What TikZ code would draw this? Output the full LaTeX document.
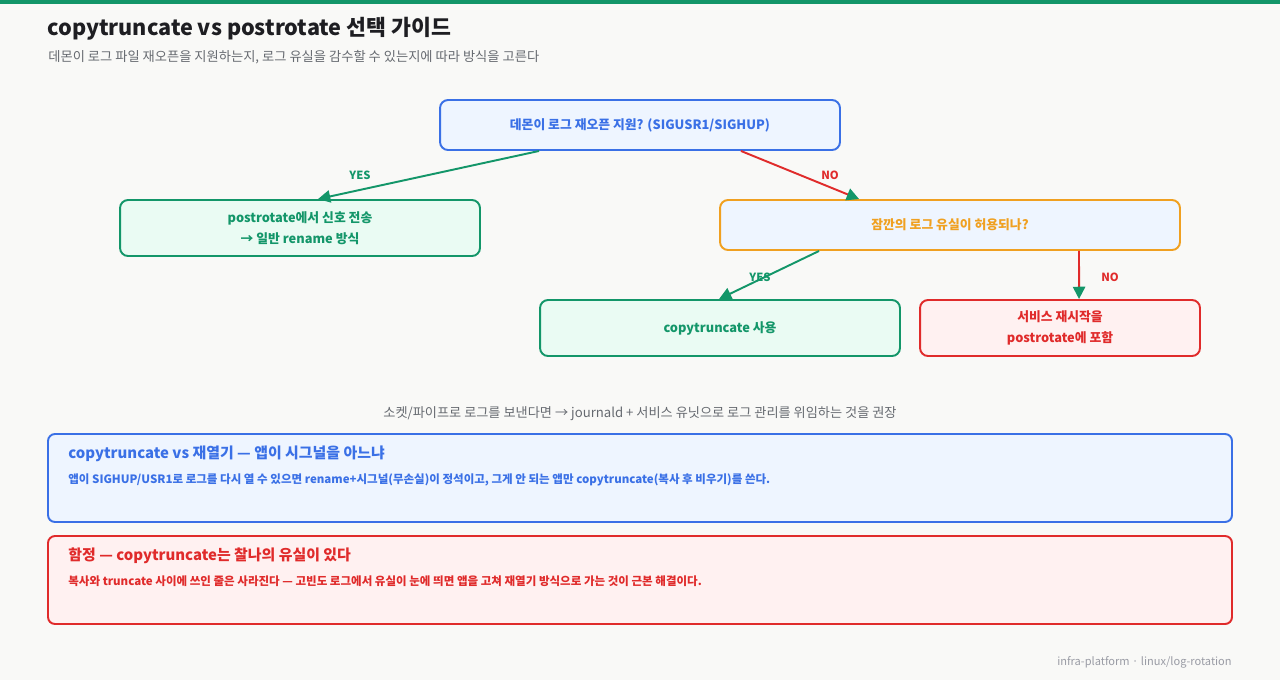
\documentclass[tikz,border=0pt]{standalone}
\usepackage{fontspec}
\setmainfont{Noto Sans CJK KR}
\usetikzlibrary{arrows.meta}
\definecolor{bg}{HTML}{F9F9F7}
\definecolor{okc}{HTML}{139669}
\definecolor{okf}{HTML}{EAFBF3}
\definecolor{blc}{HTML}{3A70E6}
\definecolor{blf}{HTML}{EEF5FF}
\definecolor{orc}{HTML}{F0A020}
\definecolor{rdc}{HTML}{E02B2B}
\definecolor{rdf}{HTML}{FFF1F1}
\definecolor{ink}{HTML}{1E1E22}
\definecolor{mut}{HTML}{666A70}
\definecolor{ftc}{HTML}{9A9CA5}
\begin{document}
\begin{tikzpicture}[x=.02cm,y=-.02cm,
  box/.style={draw,rounded corners=.16cm,line width=1.1pt,inner sep=0pt,font=\fontsize{7.3}{12}\selectfont\bfseries,align=center},
  link/.style={line width=1.1pt,-{Triangle[length=7pt,width=7pt,color=okc]}},
  tag/.style={font=\fontsize{6.4}{8}\selectfont\bfseries},
  txt/.style={anchor=west,inner sep=0pt}]
\fill[bg] (0,0) rectangle (1280,680);
\fill[okc] (0,0) rectangle (1280,3.5);
\node[txt,text=ink,font=\fontsize{12.3}{15}\selectfont\bfseries] (title) at (47,29) {copytruncate vs postrotate 선택 가이드};
\node[txt,text=mut,font=\fontsize{7.55}{9}\selectfont] (sub) at (48,57) {데몬이 로그 파일 재오픈을 지원하는지, 로그 유실을 감수할 수 있는지에 따라 방식을 고른다};
% decision tree
\node[box,draw=blc,fill=blf,text=blc,minimum width=8cm,minimum height=1cm] (q1) at (640,125) {데몬이 로그 재오픈 지원? (SIGUSR1/SIGHUP)};
\node[box,draw=okc,fill=okf,text=okc,minimum width=7.2cm,minimum height=1.12cm] (post) at (300,228) {postrotate에서 신호 전송\\→ 일반 rename 방식};
\node[box,draw=orc,fill=blf,text=orc,minimum width=9.2cm,minimum height=1cm] (q2) at (950,225) {잠깐의 로그 유실이 허용되나?};
\node[box,draw=okc,fill=okf,text=okc,minimum width=7.2cm,minimum height=1.12cm] (copy) at (720,328) {copytruncate 사용};
\node[box,draw=rdc,fill=rdf,text=rdc,minimum width=5.6cm,minimum height=1.12cm] (restart) at (1060,328) {서비스 재시작을\\postrotate에 포함};
\draw[link,okc] ([xshift=2cm]q1.south west) -- ([xshift=.36cm]post.north);
\node[tag,text=okc] (y1) at (360,175) {YES};
\draw[link,rdc] ([xshift=-2cm]q1.south east) -- ([xshift=2.8cm]q2.north west);
\node[tag,text=rdc] (n1) at (830,175) {NO};
\draw[link,okc] ([xshift=2cm]q2.south west) -- ([xshift=3.6cm]copy.north west);
\node[tag,text=okc] (y2) at (760,277) {YES};
\draw[link,rdc] ([xshift=7.2cm]q2.south west) -- ([xshift=3.2cm]restart.north west);
\node[tag,text=rdc] (n2) at (1110,277) {NO};
\node[text=mut,font=\fontsize{7.5}{9}\selectfont] (note) at (640,414) {소켓/파이프로 로그를 보낸다면 → journald + 서비스 유닛으로 로그 관리를 위임하는 것을 권장};
% notes
\draw[blc,fill=blf,line width=1.1pt,rounded corners=.14cm] (48,434) rectangle (1232,522);
\node[txt,text=blc,font=\fontsize{8.5}{10}\selectfont\bfseries] (bt) at (68,454) {copytruncate vs 재열기 — 앱이 시그널을 아느냐};
\node[txt,text=blc,font=\fontsize{6.55}{8}\selectfont\bfseries] (bb) at (68,480) {앱이 SIGHUP/USR1로 로그를 다시 열 수 있으면 rename+시그널(무손실)이 정석이고, 그게 안 되는 앱만 copytruncate(복사 후 비우기)를 쓴다.};
\draw[rdc,fill=rdf,line width=1.1pt,rounded corners=.14cm] (48,536) rectangle (1232,624);
\node[txt,text=rdc,font=\fontsize{8.5}{10}\selectfont\bfseries] (rt) at (68,556) {함정 — copytruncate는 찰나의 유실이 있다};
\node[txt,text=rdc,font=\fontsize{6.55}{8}\selectfont\bfseries] (rb) at (68,581) {복사와 truncate 사이에 쓰인 줄은 사라진다 — 고빈도 로그에서 유실이 눈에 띄면 앱을 고쳐 재열기 방식으로 가는 것이 근본 해결이다.};
\node[txt,anchor=east,text=ftc,font=\fontsize{6.3}{8}\selectfont] (foot) at (1232,662) {infra-platform · linux/log-rotation};
\end{tikzpicture}
\end{document}
